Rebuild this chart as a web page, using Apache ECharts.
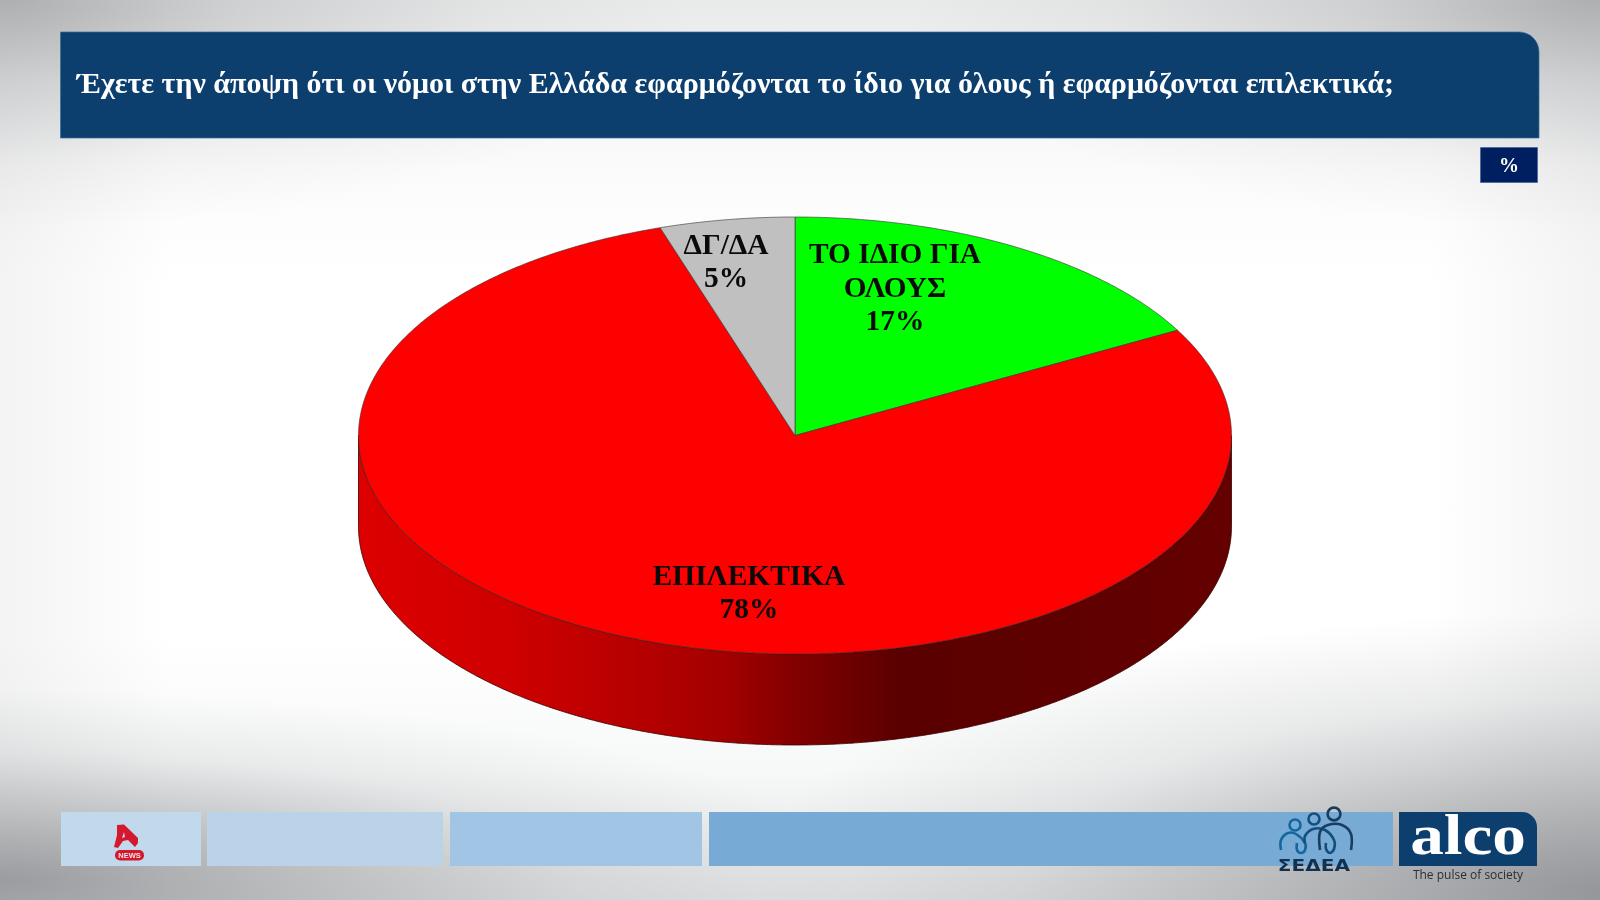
<!DOCTYPE html>
<html lang="el">
<head>
<meta charset="utf-8">
<title>Chart</title>
<script src="https://cdn.jsdelivr.net/npm/echarts@6/dist/echarts.min.js"></script>
<style>
html,body{margin:0;padding:0;width:1600px;height:900px;overflow:hidden}
body{background:
 radial-gradient(ellipse 700px 230px at 0 0, rgba(140,142,146,.6), rgba(140,142,146,.28) 35%, rgba(140,142,146,.08) 70%, rgba(140,142,146,0) 100%),
 radial-gradient(ellipse 700px 230px at 100% 0, rgba(140,142,146,.6), rgba(140,142,146,.28) 35%, rgba(140,142,146,.08) 70%, rgba(140,142,146,0) 100%),
 radial-gradient(ellipse 850px 190px at 0 880px, rgba(130,132,136,.72), rgba(130,132,136,.4) 35%, rgba(130,132,136,.12) 68%, rgba(130,132,136,0) 100%),
 radial-gradient(ellipse 850px 280px at 100% 890px, rgba(130,132,136,.78), rgba(130,132,136,.45) 35%, rgba(130,132,136,.14) 68%, rgba(130,132,136,0) 100%),
 linear-gradient(to right, rgba(140,142,146,.1) 0, rgba(140,142,146,0) 170px, rgba(140,142,146,0) 1430px, rgba(140,142,146,.1) 100%),
 linear-gradient(to bottom, #e9eaea 0, #f3f4f4 100px, #fbfbfb 170px, #ffffff 280px, #ffffff 640px, #f7f8f8 770px, #dedfe0 900px);
}
#c{width:1600px;height:900px}
</style>
</head>
<body>
<div id="c"></div>
<script>
const categories = ['ΤΟ ΙΔΙΟ ΓΙΑ\nΟΛΟΥΣ', 'ΕΠΙΛΕΚΤΙΚΑ', 'ΔΓ/ΔΑ'];
const values = [17, 78, 5];
const sliceColors = ['#00ff00', '#ff0000', '#c0c0c0'];
const titleText = 'Έχετε την άποψη ότι οι νόμοι στην Ελλάδα εφαρμόζονται το ίδιο για όλους ή εφαρμόζονται επιλεκτικά;';

const pie = { cx: 795, cy: 435.5, rx: 436.5, ry: 218.5, depth: 91 };
const labelCenters = [[895, 289], [749, 594], [726, 263]];
const serif = '"Liberation Serif", "Times New Roman", serif';
const total = values.reduce((a, b) => a + b, 0);

function pt(deg, dy) {
  const a = deg * Math.PI / 180;
  return [pie.cx + pie.rx * Math.sin(a), pie.cy - pie.ry * Math.cos(a) + (dy || 0)];
}
function arc(from, to, dy) {
  const out = [];
  const n = Math.max(2, Math.ceil((to - from) * 2));
  for (let i = 0; i <= n; i++) out.push(pt(from + (to - from) * i / n, dy));
  return out;
}
const wallFill = {
  type: 'linear', x: pie.cx - pie.rx, y: 0, x2: pie.cx + pie.rx, y2: 0, global: true,
  colorStops: [
    { offset: 0, color: '#dd0000' }, { offset: 0.17, color: '#cf0000' },
    { offset: 0.32, color: '#b60000' }, { offset: 0.42, color: '#a30000' },
    { offset: 0.5, color: '#820000' }, { offset: 0.62, color: '#5a0000' },
    { offset: 1, color: '#640000' }
  ]
};
function renderSlice(params, api) {
  const idx = params.dataIndex;
  let before = 0;
  for (let i = 0; i < idx; i++) before += values[i];
  const start = before / total * 360;
  const end = start + api.value(0) / total * 360;
  const children = [];
  const wStart = Math.max(start, 90), wEnd = Math.min(end, 270);
  if (wEnd > wStart) {
    children.push({
      type: 'polygon',
      shape: { points: arc(wStart, wEnd, 0).concat(arc(wStart, wEnd, pie.depth).reverse()) },
      style: { fill: wallFill, stroke: '#3a0000', lineWidth: 0.8 }
    });
  }
  children.push({
    type: 'polygon',
    shape: { points: [[pie.cx, pie.cy]].concat(arc(start, end, 0)) },
    style: { fill: sliceColors[idx], stroke: 'rgba(50,50,50,0.75)', lineWidth: 0.8, lineJoin: 'round' }
  });
  const c = labelCenters[idx];
  children.push({
    type: 'text', z2: 10,
    style: {
      text: categories[idx] + '\n' + api.value(0) + '%',
      x: c[0], y: c[1], align: 'center', verticalAlign: 'middle',
      fontFamily: serif, fontWeight: 'bold', fontSize: 29.4, lineHeight: 33.7, fill: '#0a0a0a'
    }
  });
  return { type: 'group', children };
}

const navy = '#0d3f6e';
function stroke(points, color) {
  return { type: 'polyline', shape: { points, smooth: 0.35 }, style: { fill: 'none', stroke: color, lineWidth: 2.6 } };
}
const graphic = [
  { type: 'rect', shape: { x: 60.5, y: 32, width: 1478.5, height: 106, r: [0, 20, 0, 0] }, style: { fill: navy, stroke: '#3b6a96', lineWidth: 0.7 } },
  { type: 'text', style: { text: titleText, x: 77, y: 85, verticalAlign: 'middle', fontFamily: serif, fontWeight: 'bold', fontSize: 29.95, fill: '#ffffff' } },
  { type: 'rect', shape: { x: 1480.5, y: 147.5, width: 57, height: 35 }, style: { fill: '#001f60', stroke: '#3b5a90', lineWidth: 0.6 } },
  { type: 'text', style: { text: '%', x: 1509, y: 166.5, align: 'center', verticalAlign: 'middle', fontFamily: serif, fontWeight: 'bold', fontSize: 20, fill: '#ffffff' } },
  { type: 'rect', shape: { x: 61, y: 812, width: 140, height: 54 }, style: { fill: '#c2d8eb' } },
  { type: 'rect', shape: { x: 207, y: 812, width: 236, height: 54 }, style: { fill: '#bbd3e9' } },
  { type: 'rect', shape: { x: 450, y: 812, width: 252, height: 54 }, style: { fill: '#a1c5e4' } },
  { type: 'rect', shape: { x: 709, y: 812, width: 684, height: 54 }, style: { fill: '#77aad5' } },
  { type: 'rect', shape: { x: 1399, y: 812, width: 138, height: 54, r: [0, 15, 0, 0] }, style: { fill: navy } },
  { type: 'text', originX: 1468, originY: 840, scaleX: 1.2, style: { text: 'alco', x: 1468, y: 840, align: 'center', verticalAlign: 'middle', fontFamily: serif, fontWeight: 'bold', fontSize: 56, fill: '#ffffff' } },
  { type: 'text', style: { text: 'The pulse of society', x: 1468, y: 876, align: 'center', verticalAlign: 'middle', fontFamily: '"Open Sans", sans-serif', fontSize: 12, fill: '#2e2e2e' } },
  // Alpha news mark
  { type: 'polygon', shape: { points: [[117, 825], [124, 824.5], [138, 838], [138, 843], [135, 847], [128, 840], [123, 841], [118, 848], [114, 847], [117, 835]] }, style: { fill: '#d4192f', lineJoin: 'round' } },
  { type: 'polygon', shape: { points: [[124, 832], [125, 837], [122, 838]] }, style: { fill: '#c2d8eb' } },
  { type: 'rect', shape: { x: 115, y: 850, width: 29, height: 10.5, r: 5 }, style: { fill: '#d4192f' } },
  { type: 'text', style: { text: 'NEWS', x: 129.5, y: 855.5, align: 'center', verticalAlign: 'middle', fontFamily: '"Liberation Sans", sans-serif', fontWeight: 'bold', fontSize: 7.5, fill: '#f4e4e4' } },
  // ΣΕΔΕΑ mark
  { type: 'circle', shape: { cx: 1295, cy: 825, r: 5.5 }, style: { fill: 'none', stroke: '#12679f', lineWidth: 2.6 } },
  { type: 'circle', shape: { cx: 1314, cy: 819, r: 5.5 }, style: { fill: 'none', stroke: '#134f7e', lineWidth: 2.6 } },
  { type: 'circle', shape: { cx: 1334, cy: 814, r: 6.4 }, style: { fill: 'none', stroke: '#163d62', lineWidth: 2.6 } },
  stroke([[1281, 850], [1281, 840], [1288, 833], [1296, 834], [1305, 843], [1305, 850], [1301, 853], [1297, 850], [1297, 843]], '#12679f'),
  stroke([[1305, 843], [1305, 836], [1313, 829], [1325, 830], [1334, 840], [1334, 849], [1330, 853], [1326, 849], [1326, 843]], '#134f7e'),
  stroke([[1320, 850], [1320, 832], [1328, 825], [1342, 825], [1351, 834], [1351, 850]], '#163d62'),
  { type: 'text', originX: 1314, originY: 866, scaleX: 1.34, style: { text: 'ΣΕΔΕΑ', x: 1314, y: 867, align: 'center', verticalAlign: 'middle', fontFamily: '"DejaVu Sans", sans-serif', fontWeight: 'bold', fontSize: 15, fill: '#12304f' } }
];

const chart = echarts.init(document.getElementById('c'), null, { renderer: 'canvas' });
chart.setOption({
  animation: false,
  graphic,
  series: [{
    type: 'custom',
    coordinateSystem: 'none',
    renderItem: renderSlice,
    data: categories.map((name, i) => ({ name, value: [values[i]] })),
    z: 5
  }]
});
</script>
</body>
</html>
